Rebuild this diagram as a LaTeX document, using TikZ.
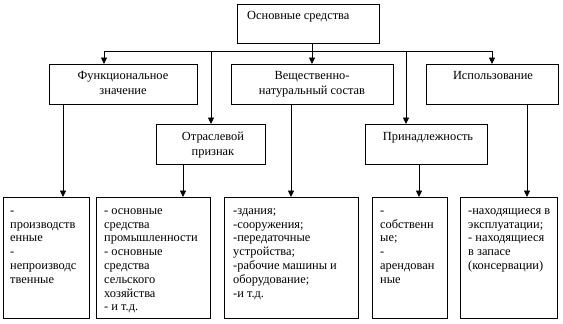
\documentclass[tikz,border=0pt]{standalone}
\usepackage{fontspec}
\setmainfont{Liberation Serif}
\usetikzlibrary{arrows.meta}
\tikzset{
  box/.style={draw=black, line width=0.8pt, inner sep=0pt, outer sep=0pt, fill=white},
  arr/.style={draw=black, line width=0.8pt, -{Triangle[length=6.5pt,width=6pt]}},
  bus/.style={draw=black, line width=0.8pt},
  toptext/.style={inner sep=0pt, anchor=north, align=center, font=\fontsize{12.4pt}{15.5pt}\selectfont},
  headtext/.style={inner sep=0pt, anchor=north west, align=left, font=\fontsize{12.4pt}{14pt}\selectfont},
  listtext/.style={inner sep=0pt, anchor=north west, align=left, font=\fontsize{12.4pt}{13.8pt}\selectfont}
}
\newcommand{\fl}{\rule{0pt}{10pt}}
\begin{document}
\begin{tikzpicture}[x=1pt,y=-1pt]
\useasboundingbox[fill=white] (0,0) rectangle (563,324);
% boxes
\node[box, minimum width=142pt, minimum height=39pt] (T) at (308,23.5) {};
\node[box, minimum width=148pt, minimum height=40pt] (A) at (123,84) {};
\node[box, minimum width=162pt, minimum height=40pt] (B) at (312,84) {};
\node[box, minimum width=132pt, minimum height=40pt] (C) at (492,84) {};
\node[box, minimum width=109pt, minimum height=40pt] (O) at (210.5,144) {};
\node[box, minimum width=122pt, minimum height=40pt] (P) at (426,144) {};
\node[box, minimum width=86pt, minimum height=121pt] (b1) at (46,257.5) {};
\node[box, minimum width=114pt, minimum height=121pt] (b2) at (153,257.5) {};
\node[box, minimum width=134pt, minimum height=121pt] (b3) at (291,257.5) {};
\node[box, minimum width=75pt, minimum height=121pt] (b4) at (409.5,257.5) {};
\node[box, minimum width=97pt, minimum height=121pt] (b5) at (508.5,257.5) {};
% texts
\node[headtext] (tT) at (247,9.5) {\fl Основные средства};
\node[toptext] (tA) at (123,69) {\fl Функциональное\\значение};
\node[toptext] (tB) at (312,69) {\fl Вещественно-\\натуральный состав};
\node[toptext] (tC) at (493,69) {\fl Использование};
\node[toptext] (tO) at (213,130) {\fl Отраслевой\\признак};
\node[toptext] (tP) at (428,130) {\fl Принадлежность};
\node[listtext] (t1) at (10,204) {\fl -\\производств\\енные\\-\\непроизводс\\твенные};
\node[listtext] (t2) at (104,204) {\fl - основные\\средства\\промышленности\\- основные\\средства\\сельского\\хозяйства\\- и т.д.};
\node[listtext] (t3) at (233,204) {\fl -здания;\\-сооружения;\\-передаточные\\устройства;\\-рабочие машины и\\оборудование;\\-и т.д.};
\node[listtext] (t4) at (380,204) {\fl -\\собственн\\ые;\\-\\арендован\\ные};
\node[listtext] (t5) at (468,204) {\fl -находящиеся в\\эксплуатации;\\- находящиеся\\в запасе\\(консервации)};
% connectors
\coordinate (busL) at (104,51);
\coordinate (busR) at (492,51);
\coordinate (jO) at (211,51);
\coordinate (jP) at (406,51);
\draw[bus] (busL) -- (busR);
\draw[arr] (T.south -| B.north) -- (B.north);
\draw[arr] (busL) -- (busL |- A.north);
\draw[arr] (busR) -- (C.north);
\draw[arr] (jO) -- (jO |- O.north);
\draw[arr] (jP) -- (jP |- P.north);
\draw[arr] ([xshift=-60pt]A.south) -- ([xshift=17pt]b1.north);
\draw[arr] ([xshift=-27.5pt]O.south) -- ([xshift=30pt]b2.north);
\draw[arr] ([xshift=-21pt]B.south) -- (b3.north);
\draw[arr] ([xshift=-7pt]P.south) -- ([xshift=9.5pt]b4.north);
\draw[arr] ([xshift=35pt]C.south) -- ([xshift=18.5pt]b5.north);
\end{tikzpicture}
\end{document}
